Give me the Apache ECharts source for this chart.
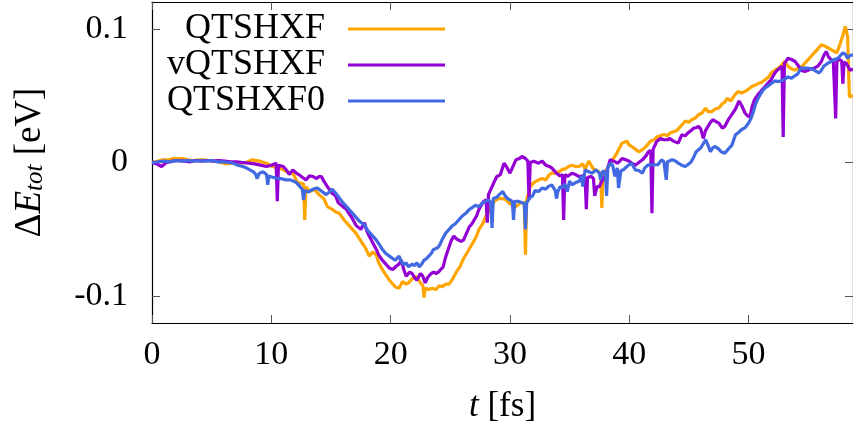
<!DOCTYPE html>
<html>
<head>
<meta charset="utf-8">
<script src="https://cdn.jsdelivr.net/npm/echarts@6/dist/echarts.min.js"></script>
<style>
  html, body { margin: 0; padding: 0; background: #fff; }
  #chart { width: 853px; height: 433px; }
</style>
</head>
<body>
<div id="chart"></div>
<script>
// Total-energy drift ΔE_tot [eV] versus time t [fs] for three propagation schemes.
const seriesNames = ['QTSHXF', 'vQTSHXF', 'QTSHXF0'];

const qtshxf = [
  [0,0],[0.5,0.001],[0.9,0.002],[1.4,0.002],[1.8,0.003],[2.2,0.003],[2.6,0.003],[3.0,0.002],[3.4,0.0015],[3.9,0.002],
  [4.3,0.002],[4.8,0.0015],[5.4,0.001],[5.8,0.0],[6.2,-0.001],[6.7,-0.0005],[7.1,0],[7.5,-0.0005],[7.9,0],[8.4,0.002],
  [9.0,0.001],[9.6,-0.0005],[10.1,-0.003],[10.6,-0.004],[11.0,-0.0055],[11.5,-0.008],[11.8,-0.008],[12.2,-0.015],[12.7,-0.016],[12.8,-0.043],
  [12.9,-0.018],[13.2,-0.0217],[13.6,-0.02],[14.0,-0.024],[14.4,-0.027],[14.7,-0.033],[15.1,-0.035],[15.4,-0.037],[15.7,-0.038],[16.1,-0.043],
  [16.5,-0.047],[17.1,-0.053],[17.6,-0.060],[17.9,-0.064],[18.2,-0.070],[18.5,-0.067],[18.8,-0.069],[19.0,-0.075],[19.3,-0.080],[19.6,-0.084],
  [19.9,-0.088],[20.2,-0.091],[20.4,-0.093],[20.7,-0.094],[21.0,-0.089],[21.3,-0.091],[21.5,-0.090],[21.8,-0.087],[22.1,-0.085],[22.5,-0.090],
  [22.7,-0.092],[22.8,-0.101],[22.9,-0.094],[23.2,-0.095],[23.5,-0.094],[23.8,-0.095],[24.1,-0.092],[24.3,-0.093],[24.6,-0.091],[24.9,-0.091],
  [25.2,-0.087],[25.5,-0.082],[25.8,-0.078],[26.1,-0.072],[26.5,-0.066],[26.9,-0.060],[27.2,-0.055],[27.4,-0.050],[27.7,-0.046],[28.0,-0.040],
  [28.3,-0.035],[28.7,-0.029],[29.0,-0.027],[29.4,-0.027],[29.7,-0.028],[29.9,-0.030],[30.2,-0.032],[30.5,-0.033],[30.9,-0.030],[31.2,-0.030],
  [31.3,-0.069],[31.4,-0.028],[31.7,-0.018],[32.0,-0.015],[32.4,-0.013],[32.7,-0.012],[33.0,-0.013],[33.3,-0.009],[33.5,-0.008],[33.8,-0.008],
  [34.1,-0.007],[34.4,-0.005],[34.6,-0.005],[34.9,-0.003],[35.2,-0.002],[35.5,-0.003],[35.8,-0.003],[36.1,-0.001],[36.3,-0.005],[36.6,0.001],
  [37.0,-0.005],[37.3,-0.006],[37.6,-0.008],[37.7,-0.034],[37.8,-0.008],[38.0,-0.007],[38.3,-0.002],[38.6,0.002],[38.9,0.006],[39.1,0.0095],
  [39.4,0.0145],[39.8,0.016],[40.0,0.013],[40.2,0.012],[40.5,0.010],[40.8,0.008],[41.0,0.009],[41.3,0.011],[41.5,0.013],[41.8,0.016],
  [42.1,0.017],[42.3,0.019],[42.6,0.020],[42.9,0.021],[43.2,0.020],[43.4,0.022],[43.7,0.023],[44.0,0.024],[44.3,0.027],[44.5,0.029],
  [44.7,0.031],[45.0,0.030],[45.2,0.032],[45.5,0.033],[45.8,0.0357],[46.1,0.037],[46.4,0.0407],[46.6,0.038],[46.9,0.038],[47.2,0.040],
  [47.5,0.0407],[47.8,0.044],[48.0,0.045],[48.2,0.048],[48.5,0.046],[48.8,0.050],[49.1,0.053],[49.4,0.052],[49.7,0.053],[50.0,0.055],
  [50.3,0.057],[50.6,0.058],[50.8,0.059],[51.1,0.060],[51.4,0.062],[51.7,0.064],[51.9,0.067],[52.2,0.069],[52.5,0.0705],[52.8,0.073],
  [53.0,0.0755],[53.3,0.072],[53.6,0.070],[53.9,0.069],[54.2,0.0705],[54.5,0.072],[54.8,0.075],[55.0,0.077],[55.3,0.080],[55.5,0.082],
  [55.8,0.085],[56.1,0.088],[56.4,0.087],[56.7,0.0855],[57.0,0.084],[57.2,0.083],[57.4,0.082],[57.6,0.087],[57.9,0.095],[58.1,0.1017],
  [58.3,0.094],[58.45,0.049],[58.75,0.05]
];

const vqtshxf = [
  [0,0],[0.4,-0.001],[0.8,-0.003],[1.2,0.0],[1.7,0.001],[2.2,0.0015],[2.7,0.001],[3.2,0.0005],[3.6,0.0015],[4.1,0.001],
  [4.6,0.0015],[5.1,0.001],[5.6,0.0015],[6.1,0.001],[6.6,0.0005],[7.1,0.0005],[7.6,0],[8.1,-0.0005],[8.6,-0.001],[9.1,-0.002],
  [9.6,-0.003],[10.0,-0.002],[10.4,-0.0005],[10.5,-0.029],[10.6,-0.002],[11.0,-0.003],[11.3,-0.006],[11.5,-0.009],[11.8,-0.0055],[12.1,-0.008],
  [12.3,-0.009],[12.6,-0.011],[12.9,-0.013],[13.2,-0.010],[13.5,-0.0105],[13.8,-0.012],[14.0,-0.0105],[14.2,-0.0105],[14.4,-0.014],[14.7,-0.018],
  [15.1,-0.023],[15.4,-0.025],[15.6,-0.030],[16.0,-0.033],[16.3,-0.035],[16.5,-0.038],[16.8,-0.042],[17.1,-0.047],[17.5,-0.050],[17.8,-0.045],
  [18.0,-0.051],[18.2,-0.055],[18.5,-0.060],[18.8,-0.065],[19.0,-0.069],[19.3,-0.073],[19.6,-0.076],[19.9,-0.079],[20.2,-0.080],[20.4,-0.078],
  [20.7,-0.076],[20.9,-0.073],[21.1,-0.080],[21.3,-0.085],[21.6,-0.082],[21.8,-0.083],[22.0,-0.086],[22.2,-0.088],[22.5,-0.083],[22.7,-0.085],
  [22.9,-0.090],[23.1,-0.086],[23.4,-0.083],[23.6,-0.082],[23.8,-0.083],[24.0,-0.082],[24.2,-0.080],[24.4,-0.078],[24.6,-0.071],[24.9,-0.063],
  [25.1,-0.058],[25.3,-0.055],[25.5,-0.057],[25.7,-0.058],[25.9,-0.059],[26.1,-0.058],[26.4,-0.052],[26.6,-0.048],[26.8,-0.046],[27.0,-0.043],
  [27.2,-0.040],[27.4,-0.035],[27.6,-0.032],[27.8,-0.029],[28.0,-0.028],[28.1,-0.045],[28.2,-0.024],[28.5,-0.018],[28.7,-0.014],[28.9,-0.0105],
  [29.2,-0.009],[29.5,-0.0005],[29.7,-0.003],[30.0,-0.008],[30.2,-0.004],[30.5,0.002],[30.8,0.003],[31.0,0.0045],[31.3,0.003],[31.5,0.001],
  [31.6,-0.028],[31.7,0.0],[32.0,0.001],[32.4,-0.0005],[32.7,0.001],[33.0,-0.002],[33.3,-0.003],[33.5,-0.004],[33.9,-0.008],[34.2,-0.010],
  [34.4,-0.009],[34.5,-0.043],[34.6,-0.009],[34.8,-0.0105],[35.2,-0.008],[35.5,-0.009],[35.8,-0.0105],[36.1,-0.010],[36.3,-0.012],[36.4,-0.035],
  [36.5,-0.011],[36.8,-0.0105],[37.0,-0.012],[37.1,-0.025],[37.3,-0.018],[37.5,-0.018],[37.8,-0.012],[38.0,-0.0105],[38.2,-0.004],[38.4,0.002],
  [38.7,0.001],[39.0,-0.0005],[39.2,0.001],[39.4,0.003],[39.7,0.002],[40.0,0.001],[40.2,-0.0005],[40.5,-0.002],[40.8,0.0],[41.1,0.002],
  [41.4,0.005],[41.6,0.008],[41.8,0.009],[41.9,-0.038],[42.0,0.010],[42.3,0.0157],[42.6,0.018],[42.9,0.017],[43.2,0.017],[43.4,0.018],
  [43.7,0.016],[44.1,0.0145],[44.4,0.0207],[44.7,0.020],[44.9,0.022],[45.2,0.024],[45.4,0.0257],[45.6,0.026],[45.8,0.027],[46.0,0.025],
  [46.2,0.018],[46.4,0.024],[46.6,0.027],[46.8,0.030],[47.0,0.032],[47.2,0.031],[47.5,0.0295],[47.8,0.0257],[48.0,0.027],[48.3,0.032],
  [48.6,0.036],[48.9,0.040],[49.2,0.046],[49.4,0.043],[49.7,0.037],[49.9,0.035],[50.1,0.034],[50.3,0.042],[50.5,0.047],[50.8,0.051],
  [51.1,0.054],[51.4,0.057],[51.6,0.059],[51.9,0.062],[52.2,0.067],[52.4,0.069],[52.6,0.0705],[52.8,0.072],[52.9,0.019],[53.0,0.074],
  [53.3,0.078],[53.6,0.077],[53.9,0.0755],[54.2,0.072],[54.4,0.069],[54.7,0.068],[55.0,0.069],[55.2,0.070],[55.5,0.0705],[55.8,0.072],
  [56.1,0.0755],[56.3,0.080],[56.5,0.083],[56.7,0.079],[56.9,0.077],[57.1,0.076],[57.3,0.033],[57.4,0.076],[57.6,0.077],[57.8,0.076],
  [57.9,0.059],[58.0,0.075],[58.2,0.074],[58.5,0.069],[58.75,0.070]
];

const qtshxf0 = [
  [0,0],[0.5,0.0005],[1.0,0.001],[1.5,0.0005],[2.0,0.0015],[2.5,0.001],[3.0,0.0015],[3.5,0.001],[4.0,0.0015],[4.5,0.001],
  [5.0,0.0015],[5.5,0.0005],[6.0,0.0005],[6.4,0],[6.8,-0.0005],[7.2,-0.002],[7.6,-0.003],[7.9,-0.004],[8.2,-0.0055],[8.5,-0.007],
  [8.7,-0.009],[8.8,-0.012],[9.0,-0.008],[9.3,-0.007],[9.6,-0.009],[9.7,-0.0167],[9.8,-0.010],[10.1,-0.011],[10.4,-0.0117],[10.8,-0.012],
  [11.2,-0.013],[11.6,-0.013],[12.1,-0.015],[12.4,-0.018],[12.6,-0.020],[12.7,-0.028],[12.8,-0.021],[13.1,-0.022],[13.5,-0.020],[13.8,-0.019],
  [14.0,-0.020],[14.3,-0.022],[14.6,-0.024],[14.9,-0.0217],[15.1,-0.020],[15.4,-0.023],[15.7,-0.0266],[16.0,-0.030],[16.3,-0.033],[16.6,-0.036],
  [16.8,-0.038],[17.1,-0.041],[17.4,-0.044],[17.7,-0.046],[17.9,-0.048],[18.1,-0.051],[18.3,-0.053],[18.6,-0.056],[18.8,-0.058],[19.1,-0.062],
  [19.3,-0.065],[19.6,-0.068],[19.9,-0.070],[20.2,-0.072],[20.4,-0.073],[20.7,-0.070],[20.9,-0.074],[21.1,-0.0765],[21.3,-0.075],[21.5,-0.078],
  [21.8,-0.076],[22.0,-0.077],[22.2,-0.075],[22.4,-0.078],[22.6,-0.076],[22.8,-0.073],[23.0,-0.072],[23.2,-0.070],[23.4,-0.068],[23.6,-0.065],
  [23.9,-0.064],[24.1,-0.062],[24.3,-0.058],[24.6,-0.053],[24.9,-0.050],[25.2,-0.047],[25.4,-0.046],[25.7,-0.043],[26.0,-0.040],[26.3,-0.038],
  [26.6,-0.035],[26.8,-0.034],[27.1,-0.032],[27.4,-0.033],[27.7,-0.030],[28.0,-0.029],[28.2,-0.028],[28.4,-0.030],[28.5,-0.049],[28.6,-0.027],
  [28.9,-0.026],[29.1,-0.024],[29.4,-0.0217],[29.6,-0.025],[29.8,-0.027],[30.0,-0.028],[30.2,-0.029],[30.3,-0.043],[30.4,-0.029],[30.7,-0.029],
  [31.0,-0.030],[31.2,-0.031],[31.3,-0.050],[31.4,-0.030],[31.7,-0.026],[31.9,-0.025],[32.1,-0.021],[32.4,-0.0217],[32.7,-0.019],[33.0,-0.020],
  [33.2,-0.018],[33.5,-0.0167],[33.8,-0.021],[33.9,-0.027],[34.0,-0.022],[34.2,-0.018],[34.4,-0.019],[34.6,-0.016],[34.8,-0.0217],[35.0,-0.014],
  [35.2,-0.0167],[35.5,-0.015],[35.8,-0.014],[36.0,-0.010],[36.1,-0.018],[36.3,-0.0055],[36.6,-0.007],[36.9,-0.008],[37.2,-0.0055],[37.5,-0.008],
  [37.6,-0.013],[37.8,-0.006],[38.0,-0.008],[38.1,-0.025],[38.2,-0.004],[38.4,-0.0005],[38.6,-0.002],[38.8,-0.0105],[39.0,-0.004],[39.1,-0.019],
  [39.3,-0.006],[39.5,-0.0055],[39.8,-0.003],[40.0,-0.0017],[40.2,-0.0005],[40.5,-0.0055],[40.8,-0.006],[41.1,-0.008],[41.3,-0.004],[41.6,-0.0017],
  [41.9,-0.002],[42.2,-0.0017],[42.4,-0.0017],[42.7,0.002],[42.9,0.0005],[43.1,-0.013],[43.2,0.0005],[43.6,0.002],[43.9,0.001],[44.1,-0.0005],
  [44.4,-0.002],[44.7,-0.003],[45.0,-0.001],[45.2,0.0007],[45.4,0.004],[45.6,0.008],[45.8,0.0095],[46.0,0.011],[46.2,0.014],[46.4,0.017],
  [46.6,0.013],[46.8,0.008],[47.0,0.011],[47.2,0.012],[47.5,0.010],[47.7,0.008],[48.0,0.007],[48.3,0.010],[48.6,0.013],[48.9,0.0207],
  [49.1,0.022],[49.4,0.0245],[49.7,0.026],[50.0,0.0295],[50.2,0.033],[50.4,0.038],[50.6,0.044],[50.8,0.048],[51.0,0.051],[51.2,0.054],
  [51.4,0.056],[51.6,0.057],[51.9,0.059],[52.2,0.061],[52.5,0.0605],[52.7,0.061],[53.0,0.062],[53.3,0.064],[53.6,0.063],[53.9,0.065],
  [54.1,0.066],[54.4,0.0705],[54.7,0.0705],[55.0,0.0705],[55.3,0.070],[55.5,0.069],[55.7,0.068],[55.9,0.067],[56.1,0.069],[56.3,0.072],
  [56.6,0.074],[56.9,0.0755],[57.2,0.077],[57.5,0.078],[57.7,0.080],[57.9,0.082],[58.1,0.081],[58.3,0.078],[58.5,0.080],[58.75,0.0805]
];

const seriesColors = ['#FFA500', '#9400D3', '#4169E1'];
const xTicks = [0, 10, 20, 30, 40, 50];
const yTicks = [-0.1, 0, 0.1];

const FONT = 'Liberation Serif';
const FS = 34;

const chart = echarts.init(document.getElementById('chart'), null, { renderer: 'canvas' });

const tickStyle = { show: true, inside: true, length: 8, lineStyle: { color: '#555', width: 1 } };
const lineStyleAxis = { show: true, onZero: false, lineStyle: { color: '#000', width: 1.2 } };

chart.setOption({
  animation: false,
  backgroundColor: '#fff',
  grid: { left: 152, right: -2, top: 2, bottom: 110, containLabel: false },
  legend: {
    data: seriesNames,
    orient: 'vertical',
    align: 'right',
    right: 408,
    top: 11,
    padding: 0,
    itemGap: 0,
    icon: 'rect',
    itemWidth: 97,
    itemHeight: 3,
    formatter: '{a|{name}}',
    textStyle: {
      rich: {
        a: { fontFamily: FONT, fontSize: 36, color: '#000', lineHeight: 36, padding: [0, 18, 0, 0] }
      }
    }
  },
  xAxis: [
    {
      type: 'value', position: 'bottom', min: 0, max: 58.75,
      axisLine: lineStyleAxis,
      axisTick: Object.assign({ customValues: xTicks }, tickStyle),
      axisLabel: { customValues: xTicks, fontFamily: FONT, fontSize: FS, color: '#000', margin: 15 },
      splitLine: { show: false },
      name: '{i|t}{n| [fs]}',
      nameLocation: 'middle',
      nameGap: 66,
      nameTextStyle: {
        rich: {
          i: { fontFamily: FONT, fontSize: 35, fontStyle: 'italic', color: '#000' },
          n: { fontFamily: FONT, fontSize: 35, color: '#000' }
        }
      }
    },
    {
      type: 'value', position: 'top', min: 0, max: 58.75,
      axisLine: lineStyleAxis,
      axisTick: Object.assign({ customValues: xTicks }, tickStyle),
      axisLabel: { show: false },
      splitLine: { show: false }
    }
  ],
  yAxis: [
    {
      type: 'value', position: 'left', min: -0.12, max: 0.12,
      axisLine: lineStyleAxis,
      axisTick: Object.assign({ customValues: yTicks }, tickStyle),
      axisLabel: { customValues: yTicks, fontFamily: FONT, fontSize: FS, color: '#000', margin: 24 },
      splitLine: { show: false },
      name: '{n|Δ}{i|E}{s|tot}{n| [eV]}',
      nameLocation: 'middle',
      nameGap: 104,
      nameTextStyle: {
        rich: {
          n: { fontFamily: FONT, fontSize: 37, lineHeight: 36, color: '#000' },
          i: { fontFamily: FONT, fontSize: 37, lineHeight: 36, fontStyle: 'italic', color: '#000' },
          s: { fontFamily: FONT, fontSize: 25, lineHeight: 20, fontStyle: 'italic', verticalAlign: 'bottom', color: '#000' }
        }
      }
    },
    {
      type: 'value', position: 'right', min: -0.12, max: 0.12,
      axisLine: lineStyleAxis,
      axisTick: Object.assign({ customValues: yTicks }, tickStyle),
      axisLabel: { show: false },
      splitLine: { show: false }
    }
  ],
  series: [
    { name: seriesNames[0], type: 'line', data: qtshxf, color: seriesColors[0] },
    { name: seriesNames[1], type: 'line', data: vqtshxf, color: seriesColors[1] },
    { name: seriesNames[2], type: 'line', data: qtshxf0, color: seriesColors[2] }
  ].map(s => Object.assign(s, {
    showSymbol: false,
    symbol: 'none',
    clip: true,
    lineStyle: { width: 3.2, color: s.color },
    itemStyle: { color: s.color },
    emphasis: { disabled: true }
  }))
});
</script>
</body>
</html>
